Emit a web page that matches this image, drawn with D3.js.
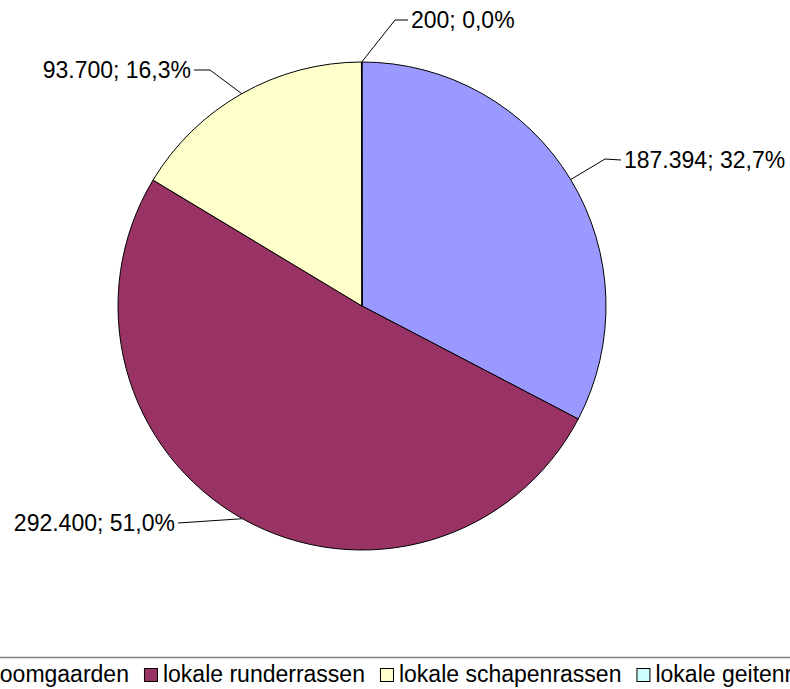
<!DOCTYPE html>
<html>
  <head>
  <title>Pie</title>
  <style>
    body, html {
      margin: 0;
      padding: 0;
      background: #fff;
      overflow: hidden;
    }
    text {
      font-family: "Liberation Sans", Arial, sans-serif;
    }
  </style>
  </head>
  <body>

  <svg id="svg" width="790" height="689"></svg>

  <script src="https://d3js.org/d3.v7.min.js"></script>
  <script>
    const categories = ['hoogstamboomgaarden', 'lokale runderrassen', 'lokale schapenrassen', 'lokale geitenrassen']
    const values = [187394, 292400, 93700, 200]
    const colors = ['#9999ff', '#993366', '#ffffcc', '#ccffff']

    // where Excel put each data label (text anchor point, elbow of the leader line)
    const labelLayout = [
      { x: 624, y: 160, anchor: 'start', elbow: [605, 159] },
      { x: 175, y: 523, anchor: 'end', elbow: null },
      { x: 191, y: 70, anchor: 'end', elbow: [210, 70] },
      { x: 411, y: 20, anchor: 'start', elbow: [395, 20] }
    ]

    const nl = d3.formatLocale({ decimal: ',', thousands: '.', grouping: [3], currency: ['€', ''] })
    const fmtNum = nl.format(',d')
    const fmtPct = nl.format('.1%')

    const cx = 362, cy = 306, radius = 244
    const svg = d3.select('#svg')
    const total = d3.sum(values)

    const pie = d3.pie().sort(null).value(d => d)
    const arcs = pie(values)
    const arc = d3.arc().innerRadius(0).outerRadius(radius)
    const edge = d3.arc().innerRadius(radius).outerRadius(radius)

    const g = svg.append('g').attr('transform', `translate(${cx}, ${cy})`)

    g.selectAll('path.slice')
      .data(arcs)
      .enter()
      .append('path')
      .attr('class', 'slice')
      .attr('d', arc)
      .attr('fill', (d, i) => colors[i])
      .attr('stroke', '#000')
      .attr('stroke-width', 1)

    // leader lines + labels
    const labels = svg.append('g')
    arcs.forEach((d, i) => {
      const L = labelLayout[i]
      const [ex, ey] = edge.centroid(d)
      const pts = [[cx + ex, cy + ey]]
      if (L.elbow) pts.push(L.elbow)
      pts.push([L.anchor === 'start' ? L.x - 3 : L.x + 3, L.y])
      labels.append('path')
        .attr('d', d3.line()(pts))
        .attr('fill', 'none')
        .attr('stroke', '#000')
        .attr('stroke-width', 1)
      labels.append('text')
        .attr('x', L.x)
        .attr('y', L.y)
        .attr('dy', '0.35em')
        .attr('text-anchor', L.anchor)
        .attr('font-size', 23)
        .attr('fill', '#000')
        .text(fmtNum(d.data) + '; ' + fmtPct(d.data / total))
    })

    // legend (box wider than the picture, so it is clipped at both sides)
    const legend = svg.append('g')
    legend.append('rect')
      .attr('x', -300)
      .attr('y', 657.5)
      .attr('width', 1400)
      .attr('height', 60)
      .attr('fill', '#fff')
      .attr('stroke', '#808080')
      .attr('stroke-width', 1.5)

    let lx = -133
    categories.forEach((c, i) => {
      legend.append('rect')
        .attr('x', lx + 0.5)
        .attr('y', 668.5)
        .attr('width', 13)
        .attr('height', 13)
        .attr('fill', colors[i])
        .attr('stroke', '#000')
        .attr('stroke-width', 1)
      const t = legend.append('text')
        .attr('x', lx + 19)
        .attr('y', 682)
        .attr('font-size', 23)
        .attr('fill', '#000')
        .text(c)
      lx += 19 + t.node().getComputedTextLength() + 15
    })
  </script>
  </body>
</html>
